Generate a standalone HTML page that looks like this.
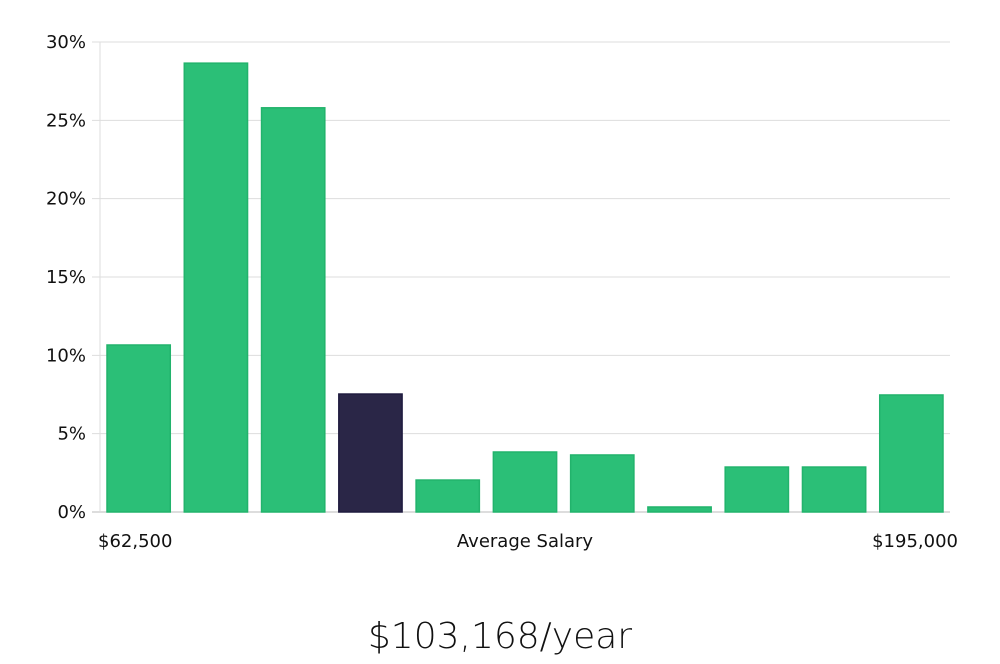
<!DOCTYPE html>
<html><head><meta charset="utf-8"><style>
body{margin:0;background:#fff;width:1000px;height:660px;overflow:hidden;font-family:"DejaVu Sans","Liberation Sans",sans-serif;}
svg text{font-family:"DejaVu Sans","Liberation Sans",sans-serif;}
</style></head><body>
<svg id="chart" width="1000" height="660" xmlns="http://www.w3.org/2000/svg">
<g id="grid"></g>
<g id="yaxis"></g>
<g id="bars"></g>
<text x="98" y="547" font-size="18" fill="#111">$62,500</text>
<text x="525" y="547" font-size="18" fill="#111" text-anchor="middle">Average Salary</text>
<text x="958" y="547" font-size="18" fill="#111" text-anchor="end">$195,000</text>
<text x="500" y="648" font-size="36" fill="#111" text-anchor="middle" font-family="Liberation Sans, sans-serif" style="font-weight:300">$103,168/year</text>
</svg>
<script>
const values=[10.66,28.65,25.8,7.53,2.04,3.83,3.64,0.32,2.87,2.87,7.47];
const highlight=[false,false,false,true,false,false,false,false,false,false,false];
const yTicks=[0,5,10,15,20,25,30];
const yTickLabels=["0%","5%","10%","15%","20%","25%","30%"];
const NS="http://www.w3.org/2000/svg";
const x0=100,x1=950,yBase=512,yTop=42,yMax=30;
const y=v=>yBase-(v/yMax)*(yBase-yTop);
const slot=(x1-x0)/values.length;
const grid=document.getElementById('grid'),ya=document.getElementById('yaxis'),bars=document.getElementById('bars');
yTicks.forEach((t,i)=>{
 const l=document.createElementNS(NS,'line');
 
 
 l.setAttribute('x1',x0-8);l.setAttribute('x2',x1);l.setAttribute('y1',y(t));l.setAttribute('y2',y(t));
 l.setAttribute('stroke',t===0?'#bbb':'#ddd');l.setAttribute('stroke-width','1');
 grid.appendChild(l);
 const tx=document.createElementNS(NS,'text');
 
 
 tx.setAttribute('x',86);tx.setAttribute('y',y(t)+6);tx.setAttribute('text-anchor','end');
 tx.setAttribute('font-size','18');tx.setAttribute('fill','#111');
 tx.textContent=yTickLabels[i];ya.appendChild(tx);
});
const ax=document.createElementNS(NS,'line');


ax.setAttribute('x1',x0);ax.setAttribute('x2',x0);ax.setAttribute('y1',yTop);ax.setAttribute('y2',yBase);ax.setAttribute('stroke','#ddd');
ya.appendChild(ax);
values.forEach((v,i)=>{
 const r=document.createElementNS(NS,'rect');
 
 
 r.setAttribute('x',x0+i*slot+7);r.setAttribute('width',slot-14);
 r.setAttribute('y',y(v));r.setAttribute('height',yBase-y(v));
 r.setAttribute('fill',highlight[i]?'#2a2647':'#2bbf77');
 r.setAttribute('stroke',highlight[i]?'#1f1b3f':'#22b36c');r.setAttribute('stroke-width','1.5');
 bars.appendChild(r);
});
</script>
</body></html>
